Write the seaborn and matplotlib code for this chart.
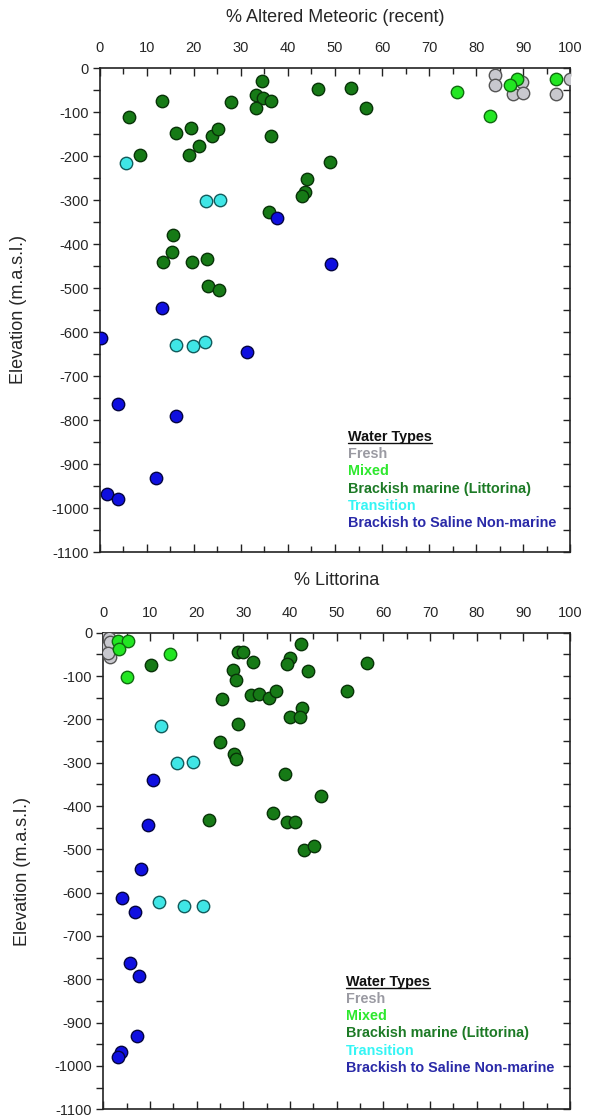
import matplotlib
matplotlib.use("Agg")
import matplotlib.pyplot as plt
from matplotlib.lines import Line2D
from matplotlib.ticker import MultipleLocator, NullFormatter
import seaborn as sns
import pandas as pd

sns.set_style("white")
plt.rcParams['font.family'] = ['Liberation Sans', 'DejaVu Sans']
plt.rcParams['axes.unicode_minus'] = False

# ---------------- data: % Altered Meteoric (recent) panel ----------------
fresh_met_x = [84.0, 84.0, 89.7, 87.9, 89.9, 97.0, 100.0]
fresh_met_y = [-17, -38, -32, -58, -57, -58, -24]
mixed_met_x = [75.9, 83.0, 88.6, 87.2, 97.0]
mixed_met_y = [-54, -108, -24, -39, -26]
brackish_met_x = [34.4, 46.3, 13.2, 27.9, 33.2, 34.8, 36.3, 33.2, 6.2, 16.2, 19.3,
                  23.8, 25.2, 36.3, 21.0, 19.0, 8.5, 48.9, 44.1, 43.6, 42.9, 36.0,
                  15.6, 15.3, 13.5, 19.5, 22.7, 23.0, 25.3, 53.5, 56.5]
brackish_met_y = [-30, -48, -74, -77, -62, -69, -75, -90, -112, -147, -136,
                  -154, -139, -155, -177, -198, -198, -213, -253, -281, -292, -328,
                  -380, -419, -442, -440, -435, -495, -505, -45, -90]
transition_met_x = [5.5, 22.5, 25.6, 16.2, 19.9, 22.4]
transition_met_y = [-217, -303, -300, -630, -631, -622]
saline_met_x = [37.7, 49.1, 13.2, 0.3, 31.2, 3.9, 16.1, 11.9, 1.5, 3.8]
saline_met_y = [-342, -445, -546, -614, -646, -764, -792, -931, -969, -980]

# ---------------- data: % Littorina panel ----------------
fresh_lit_x = [0.6, 1.2, 1.0, 0.4, 1.4, 1.5, 0.9]
fresh_lit_y = [-5, -12, -28, -36, -22, -55, -48]
mixed_lit_x = [3.2, 5.3, 3.3, 5.0, 14.3]
mixed_lit_y = [-19, -19, -38, -103, -50]
brackish_lit_x = [42.3, 28.9, 29.9, 32.1, 40.0, 39.3, 43.9, 10.2, 27.7, 28.4, 25.5,
                  31.6, 33.4, 35.4, 37.1, 42.6, 40.1, 42.1, 28.8, 25.1, 28.0, 28.4,
                  39.0, 46.6, 36.4, 39.3, 41.1, 22.6, 43.0, 45.2, 52.3, 56.4]
brackish_lit_y = [-26, -44, -45, -68, -59, -73, -88, -75, -86, -109, -153,
                  -144, -142, -151, -135, -173, -195, -195, -211, -252, -281, -292,
                  -326, -377, -415, -438, -438, -432, -501, -492, -134, -71]
transition_lit_x = [12.3, 15.7, 19.1, 12.0, 17.3, 21.4]
transition_lit_y = [-215, -301, -298, -621, -630, -630]
saline_lit_x = [10.7, 9.5, 8.0, 3.9, 6.8, 5.7, 7.7, 7.3, 3.7, 3.1]
saline_lit_y = [-340, -444, -546, -613, -644, -763, -792, -930, -967, -979]

water_types = ["Fresh", "Mixed", "Brackish marine (Littorina)", "Transition",
               "Brackish to Saline Non-marine"]
fill_colors = ["#c8c8ce", "#22e622", "#167a16", "#3fe6e6", "#0f0fe0"]
edge_colors = ["#555555", "#106a10", "#083308", "#125c5c", "#040440"]
text_colors = ["#9a9aa2", "#2ee82e", "#1d7a26", "#35f5f5", "#2a2aa8"]

met_sets = [(fresh_met_x, fresh_met_y), (mixed_met_x, mixed_met_y),
            (brackish_met_x, brackish_met_y), (transition_met_x, transition_met_y),
            (saline_met_x, saline_met_y)]
lit_sets = [(fresh_lit_x, fresh_lit_y), (mixed_lit_x, mixed_lit_y),
            (brackish_lit_x, brackish_lit_y), (transition_lit_x, transition_lit_y),
            (saline_lit_x, saline_lit_y)]

W, H = 589, 1119
fig = plt.figure(figsize=(W / 100, H / 100), dpi=100)
ax1 = fig.add_axes([99.8 / W, 1 - 552 / H, 470.4 / W, 484 / H])
ax2 = fig.add_axes([103.4 / W, 1 - 1109.3 / H, 466.5 / W, 476.6 / H])


def draw_panel(ax, sets, xlabel, leg_anchor):
    for (xs, ys), wt, fc, ec in zip(sets, water_types, fill_colors, edge_colors):
        df = pd.DataFrame({"pct": xs, "elev": ys})
        sns.scatterplot(data=df, x="pct", y="elev", ax=ax, s=80, color=fc,
                        edgecolor=ec, linewidth=1.0, legend=False, zorder=3)
    ax.set_xlim(0, 100)
    ax.set_ylim(-1100, 0)
    ax.xaxis.set_major_locator(MultipleLocator(10))
    ax.xaxis.set_minor_locator(MultipleLocator(5))
    ax.yaxis.set_major_locator(MultipleLocator(100))
    ax.yaxis.set_minor_locator(MultipleLocator(50))
    ax.tick_params(axis="x", which="both", direction="in", top=True, bottom=True,
                   labeltop=True, labelbottom=False, labelsize=10.5, pad=9,
                   color="#222222", width=1)
    ax.tick_params(axis="x", which="major", length=6)
    ax.tick_params(axis="x", which="minor", length=4)
    ax.tick_params(axis="y", which="both", direction="out", left=True, right=False,
                   labelsize=10.5, pad=3, length=5, color="#222222", width=1)
    # right-side inward ticks
    sec = ax.secondary_yaxis("right")
    sec.yaxis.set_major_locator(MultipleLocator(100))
    sec.yaxis.set_minor_locator(MultipleLocator(50))
    sec.yaxis.set_major_formatter(NullFormatter())
    sec.tick_params(axis="y", which="both", direction="in", length=5, width=1,
                    color="#222222", labelright=False)
    sec.spines["right"].set_visible(False)
    ax.xaxis.set_label_position("top")
    ax.set_xlabel(xlabel, fontsize=13)
    ax.set_ylabel("Elevation (m.a.s.l.)", fontsize=13)
    for sp in ax.spines.values():
        sp.set_color("#222222")
        sp.set_linewidth(1.2)
    ax.grid(False)
    handles = [Line2D([], [], linestyle="none") for _ in water_types]
    leg = ax.legend(handles, water_types, loc="upper left", bbox_to_anchor=leg_anchor,
                    frameon=False, handlelength=0, handletextpad=0, labelspacing=0.22,
                    borderpad=0, borderaxespad=0, title="Water Types",
                    title_fontproperties={"weight": "bold", "size": 10.4},
                    prop={"weight": "bold", "size": 10.4}, alignment="left",
                    labelcolor=text_colors)
    leg.get_title().set_color("#111111")
    return leg


leg1 = draw_panel(ax1, met_sets, "% Altered Meteoric (recent)", (0.528, 0.252))
leg2 = draw_panel(ax2, lit_sets, "% Littorina", (0.52, 0.282))

ax1.xaxis.set_label_coords(0.5, 1.095)
ax2.xaxis.set_label_coords(0.5, 1.1)
ax1.yaxis.set_label_coords(-0.155, 0.5)
ax2.yaxis.set_label_coords(-0.155, 0.5)

fig.canvas.draw()
renderer = fig.canvas.get_renderer()
for leg in (leg1, leg2):
    bb = leg.get_title().get_window_extent(renderer)
    y = bb.y0 + 1
    fig.add_artist(Line2D([bb.x0 / W, bb.x1 / W], [y / H, y / H], color="#111111",
                          linewidth=1.0, transform=fig.transFigure))

fig.savefig("out.png", dpi=100, facecolor="white")
